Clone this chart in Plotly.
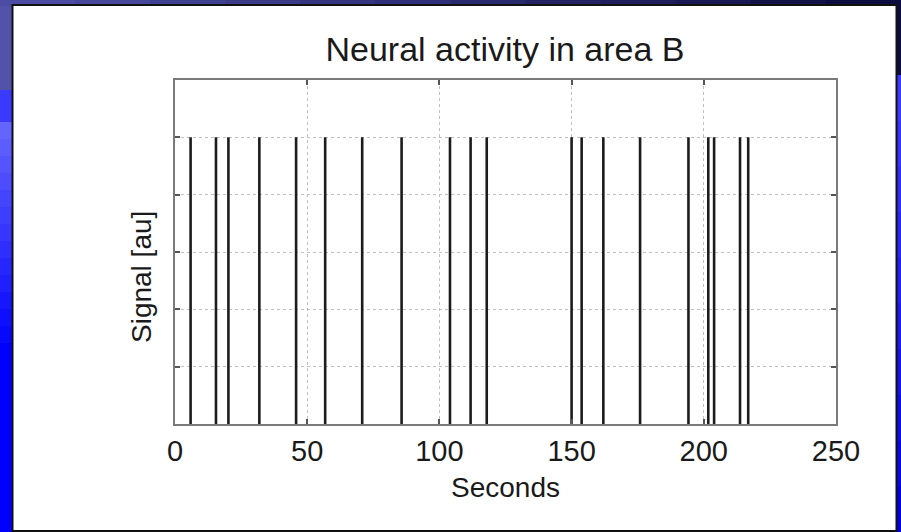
import plotly.graph_objects as go

# Spike train recorded in area B
spike_times = [5.9, 15.5, 20.2, 31.9, 45.8, 56.8, 70.8, 85.7, 104.0, 111.8,
               117.9, 150.0, 153.8, 162.0, 175.9, 194.2, 201.7, 203.9, 213.7, 216.8]
spike_heights = [1.0, 1.0, 1.0, 1.0, 1.0, 1.0, 1.0, 1.0, 1.0, 1.0,
                 1.0, 1.0, 1.0, 1.0, 1.0, 1.0, 1.0, 1.0, 1.0, 1.0]
x_ticks = [0, 50, 100, 150, 200, 250]
y_ticks = [0, 0.2, 0.4, 0.6, 0.8, 1.0, 1.2]

W_PX, H_PX = 901, 532
M_L, M_R, M_T, M_B = 175, 65, 80, 108
PW = W_PX - M_L - M_R
PH = H_PX - M_T - M_B


def px_x(px):
    return (px - M_L) / PW


def px_y(py):
    return (H_PX - M_B - py) / PH


def hexmix(c1, c2, t):
    a = [int(c1[i:i + 2], 16) for i in (1, 3, 5)]
    b = [int(c2[i:i + 2], 16) for i in (1, 3, 5)]
    return "#" + "".join(f"{round(a[k] + (b[k] - a[k]) * t):02x}" for k in range(3))


def rect(x0, y0, x1, y1, fill, line_color=None, line_width=0):
    return dict(type="rect", xref="paper", yref="paper", layer="below",
                x0=px_x(x0), x1=px_x(x1), y0=px_y(y0), y1=px_y(y1),
                fillcolor=fill,
                line=dict(color=line_color or fill, width=line_width))


shapes = []
# slide background: left strip
shapes.append(rect(0, 0, 14, 90, "#5252a8"))
shapes.append(rect(0, 90, 14, 122, "#3a3aff"))
steps = 14
for i in range(steps):
    y0 = 122 + (360 - 122) * i / steps
    y1 = 122 + (360 - 122) * (i + 1) / steps + 1
    shapes.append(rect(0, y0, 14, y1, hexmix("#6464ff", "#0000ff", i / (steps - 1))))
shapes.append(rect(0, 360, 14, 532, "#0000ff"))
# top strip
for i in range(12):
    x0 = 901 * i / 12
    x1 = 901 * (i + 1) / 12 + 1
    shapes.append(rect(x0, 0, x1, 6, hexmix("#4c4ca4", "#0c0c40", i / 11)))
# right strip
shapes.append(rect(895, 0, 901, 75, "#0c0c42"))
for i in range(10):
    y0 = 75 + (532 - 75) * i / 10
    y1 = 75 + (532 - 75) * (i + 1) / 10 + 1
    shapes.append(rect(895, y0, 901, y1, hexmix("#3c3cff", "#0000e0", i / 9)))
# white panel holding the chart
shapes.append(rect(12.5, 5, 896.5, 531, "#ffffff", "#111111", 2))

# spikes as vertical line segments
xs, ys = [], []
for t, h in zip(spike_times, spike_heights):
    xs += [t, t, None]
    ys += [0, h, None]

fig = go.Figure()
fig.add_trace(go.Scatter(x=xs, y=ys, mode="lines",
                         line=dict(color="#1c1c1c", width=2.6),
                         hoverinfo="skip", showlegend=False))

font_family = "Liberation Sans, Arial, sans-serif"
text_color = "#1a1a1a"
fig.update_layout(
    width=W_PX, height=H_PX,
    margin=dict(l=M_L, r=M_R, t=M_T, b=M_B),
    paper_bgcolor="#0000ff",
    plot_bgcolor="#ffffff",
    shapes=shapes,
    font=dict(family=font_family, color=text_color),
    title=dict(text="Neural activity in area B", x=px_x(505), xref="paper",
               xanchor="center", y=1 - 49 / H_PX, yref="container",
               yanchor="middle", font=dict(size=34, color=text_color)),
    xaxis=dict(range=[0, 250], tickvals=x_ticks, ticks="inside", ticklen=5,
               tickwidth=2, tickcolor="#555555", mirror="ticks",
               showline=True, linecolor="#7a7a7a", linewidth=2,
               showgrid=True, gridcolor="#c0c0c0", griddash="dot", gridwidth=1,
               zeroline=False, tickfont=dict(size=29),
               ticklabelstandoff=0,
               title=dict(text="Seconds", font=dict(size=28), standoff=12)),
    yaxis=dict(range=[0, 1.2], tickvals=y_ticks, ticks="inside", ticklen=5,
               tickwidth=2, tickcolor="#555555", mirror="ticks",
               showline=True, linecolor="#7a7a7a", linewidth=2,
               showgrid=True, gridcolor="#c0c0c0", griddash="dot", gridwidth=1,
               zeroline=False, showticklabels=False),
    annotations=[dict(text="Signal [au]", textangle=-90, showarrow=False,
                      xref="paper", yref="paper", x=px_x(141), y=px_y(277),
                      xanchor="center", yanchor="middle",
                      font=dict(size=28, color=text_color))],
)

fig.write_html("out.html")
